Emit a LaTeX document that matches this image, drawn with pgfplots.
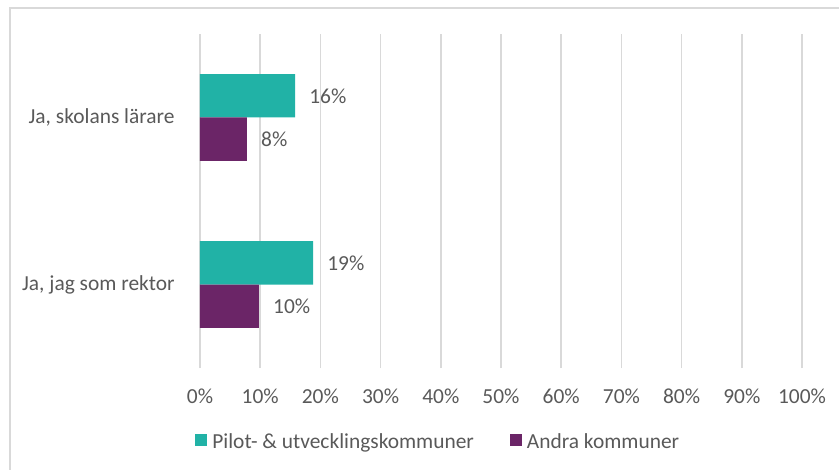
\documentclass[border=0pt]{standalone}
\usepackage{pgfplots}
\pgfplotsset{compat=1.18}
\usepackage{fontspec}
\setmainfont{Carlito}
\definecolor{tealc}{RGB}{33,178,166}
\definecolor{purpc}{RGB}{107,37,103}
\definecolor{txtc}{RGB}{89,89,89}
\definecolor{gridc}{RGB}{217,217,217}
\newcommand{\cf}{\fontsize{21.5}{25}\selectfont}
\begin{document}
\begin{tikzpicture}
\begin{axis}[
  name=ax,
  scale only axis,
  width=602bp, height=334bp,
  xbar,
  xmin=0, xmax=100,
  ymin=-0.5, ymax=1.5,
  bar width=0.26,
  xtick={0,10,20,30,40,50,60,70,80,90,100},
  xticklabels={0\%,10\%,20\%,30\%,40\%,50\%,60\%,70\%,80\%,90\%,100\%},
  ytick={0,1},
  yticklabels={{Ja, jag som rektor},{Ja, skolans lärare}},
  xmajorgrids,
  grid style={gridc, line width=1.5bp},
  axis line style={draw=none},
  tick style={draw=none},
  tick label style={font=\cf, text=txtc},
  xticklabel style={inner sep=0pt, anchor=north, yshift=-21bp},
  yticklabel style={inner sep=0pt, anchor=east, xshift=-21bp},
  nodes near coords,
  point meta=explicit symbolic,
  every node near coord/.append style={font=\cf, text=txtc, anchor=west, inner sep=0pt, xshift=14bp},
  legend columns=2,
  legend style={draw=none, fill=none, font=\cf, text=txtc,
    at={(axis description cs:-0.013,-0.2216)}, anchor=west,
    column sep=5bp,
    /tikz/every even column/.append style={column sep=36bp},
    nodes={inner sep=0pt}},
  legend image code/.code={\fill[#1,draw=none] (0bp,-4bp) rectangle (12bp,8bp);},
]
\addplot[fill=tealc, draw=none, bar shift=0.13] coordinates {(18.8,0) [19\%] (15.8,1) [16\%]};
\addlegendentry{Pilot- \& utvecklingskommuner}
\addplot[fill=purpc, draw=none, bar shift=-0.13] coordinates {(9.8,0) [10\%] (7.8,1) [8\%]};
\addlegendentry{Andra kommuner}
\end{axis}
\path[use as bounding box] ([xshift=-200bp,yshift=-102bp]ax.south west) rectangle ([xshift=37bp,yshift=34bp]ax.north east);
\draw[gridc, line width=1.5bp] ([xshift=-190bp,yshift=-102bp]ax.south west) -- ([xshift=-190bp,yshift=26bp]ax.north west) -- ([xshift=37bp,yshift=26bp]ax.north east);
\end{tikzpicture}
\end{document}
